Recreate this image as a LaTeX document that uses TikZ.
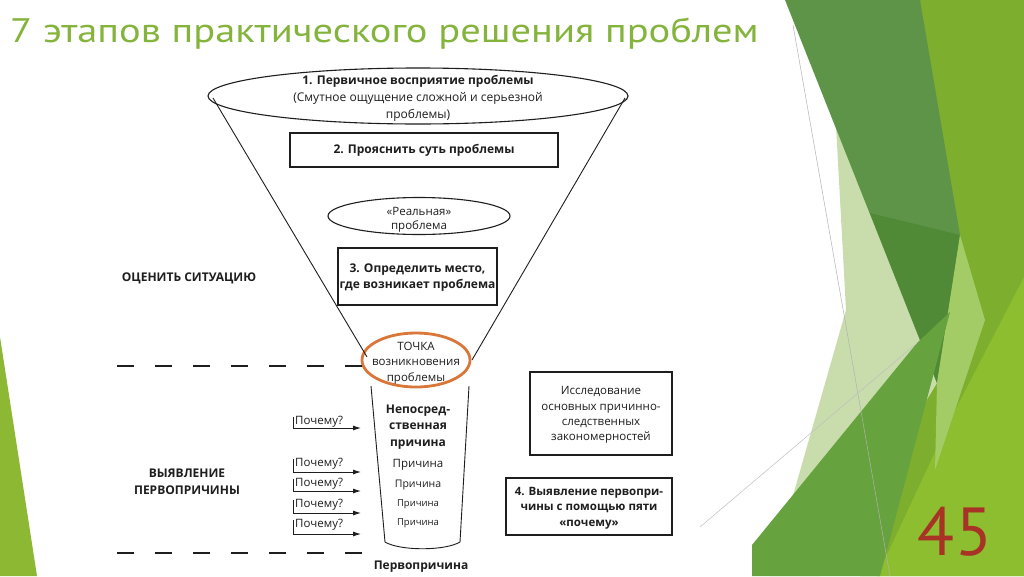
\documentclass[tikz,border=0pt]{standalone}
\usepackage{fontspec}
\setmainfont{PT Sans}
\newfontfamily\diag{Open Sans}
\usetikzlibrary{arrows.meta,shapes.geometric}
\definecolor{titlegreen}{HTML}{84B43C}
\definecolor{pagered}{HTML}{A93226}
\definecolor{gdark}{HTML}{5E9448}
\definecolor{gdarker}{HTML}{518A37}
\definecolor{glime}{HTML}{7DAE2D}
\definecolor{gbright}{HTML}{8CBE2F}
\definecolor{gmid}{HTML}{66A23D}
\definecolor{gpale}{HTML}{C8DCAC}
\definecolor{gpalelime}{HTML}{A3CB66}
\definecolor{gwedge}{HTML}{8DB833}
\definecolor{ink}{HTML}{1E1E1E}
\definecolor{tochka}{HTML}{D9773A}
\tikzset{
  txt/.style={text=ink, inner sep=0pt, align=center, font=\diag\fontsize{12}{17}\selectfont},
  btxt/.style={txt, font=\diag\fontsize{12}{16}\selectfont\bfseries},
  boxnode/.style={draw=ink, line width=1.2pt, rectangle, inner sep=0pt},
  ovalnode/.style={draw=ink, line width=1.1pt, ellipse, inner sep=0pt},
  funnel/.style={draw=ink, line width=0.9pt},
  sepline/.style={draw=ink, line width=1.2pt, dash pattern=on 17pt off 21pt},
  whyarrow/.style={draw=ink, line width=0.9pt, -{Latex[length=8pt,width=5pt]}},
  whytxt/.style={txt, anchor=west, font=\diag\fontsize{11.5}{14}\selectfont}
}
\begin{document}
\begin{tikzpicture}[x=1pt,y=-1pt]
\useasboundingbox (0,0) rectangle (1024,576);
\fill[white] (0,0) rectangle (1024,576);
% ---- background decoration ----
\fill[gwedge] (0,337) -- (37,576) -- (0,576) -- cycle;
\fill[glime] (900,0) -- (1024,0) -- (1024,576) -- (860,576) -- cycle;
\fill[gbright] (1024,277) -- (1024,576) -- (877,576) -- (950,420) -- cycle;
\fill[gpale] (836,125) -- (937,383) -- (820,576) -- (770,576) -- (846,310) -- cycle;
\fill[gdark] (785,0) -- (920,0) -- (960,235) -- (937,383) -- cycle;
\fill[gdarker] (870,213) -- (960,235) -- (937,383) -- cycle;
\fill[gpalelime] (960,235) -- (985,320) -- (935,470) -- (937,383) -- cycle;
\fill[gmid] (752,545) -- (917,343) -- (950,312) -- (880,576) -- (752,576) -- cycle;
\draw[gray!60, line width=0.5pt] (793,25) -- (890,576);
\draw[gray!50, line width=0.5pt] (700,527) -- (917,343);
% ---- title ----
\node[anchor=base west, inner sep=0pt, text=titlegreen, font=\fontsize{34}{40}\selectfont] (title) at (10,42) {\scalebox{1.19}[1]{7 этапов практического решения проблем}};
\node[inner sep=0pt, text=pagered, font=\fontsize{68}{70}\selectfont] (page) at (955,532) {45};
% ---- funnel ----
\node[ovalnode, minimum width=420pt, minimum height=56pt] (e1) at (418,96) {};
\node[txt] (e1t) at (418,98) {\textbf{1. Первичное восприятие проблемы}\\(Смутное ощущение сложной и серьезной\\проблемы)};
\node[boxnode, minimum width=268pt, minimum height=34pt] (b2) at (424,150) {};
\node[btxt] (b2t) at (424,150) {2. Прояснить суть проблемы};
\node[ovalnode, minimum width=182pt, minimum height=37pt] (real) at (419,216) {};
\node[txt, font=\diag\fontsize{11.5}{14}\selectfont] (realt) at (419,220) {«Реальная»\\проблема};
\node[boxnode, minimum width=159pt, minimum height=57pt] (b3) at (417.5,276.5) {};
\node[btxt] (b3t) at (417.5,278) {3. Определить место,\\где возникает проблема};
\node[ovalnode, draw=tochka, line width=2.8pt, minimum width=108pt, minimum height=54pt] (tp) at (416,360) {};
\node[txt, font=\diag\fontsize{11.5}{15.5}\selectfont] (tpt) at (416,363) {ТОЧКА\\возникновения\\проблемы};
\coordinate (fl1) at (213,98);
\coordinate (fl2) at (367,357);
\coordinate (fr1) at (625,98);
\coordinate (fr2) at (472,360);
\draw[funnel] (fl1) -- (fl2);
\draw[funnel] (fr1) -- (fr2);
% cup
\coordinate (cl1) at (371,386);
\coordinate (cl2) at (385,542);
\coordinate (cr1) at (469,386);
\coordinate (cr2) at (460,542);
\draw[funnel] (cl1) -- (cl2) .. controls (400,551) and (445,551) .. (cr2) -- (cr1);
\node[btxt, font=\diag\fontsize{12}{16.5}\selectfont\bfseries] (cause0) at (418,427) {Непосред-\\ственная\\причина};
\node[txt, font=\diag\fontsize{11.5}{14}\selectfont] (cause1) at (418,465) {Причина};
\node[txt, font=\diag\fontsize{10.5}{13}\selectfont] (cause2) at (418,485) {Причина};
\node[txt, font=\diag\fontsize{9.5}{12}\selectfont] (cause3) at (418,504) {Причина};
\node[txt, font=\diag\fontsize{9.5}{12}\selectfont] (cause4) at (418,523) {Причина};
\node[btxt] (root) at (421,567) {Первопричина};
% ---- left labels ----
\node[btxt] (assess) at (189,278) {ОЦЕНИТЬ СИТУАЦИЮ};
\node[btxt, font=\diag\fontsize{12}{17}\selectfont\bfseries] (find) at (187,481.5) {ВЫЯВЛЕНИЕ\\ПЕРВОПРИЧИНЫ};
\coordinate (d1a) at (117,366);
\coordinate (d1b) at (365,366);
\coordinate (d2a) at (117,553);
\coordinate (d2b) at (378,553);
\draw[sepline] (d1a) -- (d1b);
\draw[sepline] (d2a) -- (d2b);
% ---- why arrows ----
\foreach \i/\ty/\ly in {0/422/428, 1/464/472, 2/484/491, 3/505/513, 4/525/534}{
  \node[whytxt] (why\i) at (295,\ty) {Почему?};
  \coordinate (wt\i) at (293,\ty-5);
  \coordinate (wh\i) at (361,\ly);
  \draw[whyarrow] (wt\i) |- (wh\i);
}
% ---- right boxes ----
\node[boxnode, minimum width=142pt, minimum height=83pt] (rb1) at (601,413.5) {};
\node[txt, font=\diag\fontsize{11.5}{15.3}\selectfont] (rb1t) at (601,415) {Исследование\\основных причинно-\\следственных\\закономерностей};
\node[boxnode, minimum width=166pt, minimum height=57pt] (rb2) at (589,506.5) {};
\node[btxt, font=\diag\fontsize{11.5}{15.5}\selectfont\bfseries] (rb2t) at (589,508) {4. Выявление первопри-\\чины с помощью пяти\\«почему»};
\end{tikzpicture}
\end{document}
